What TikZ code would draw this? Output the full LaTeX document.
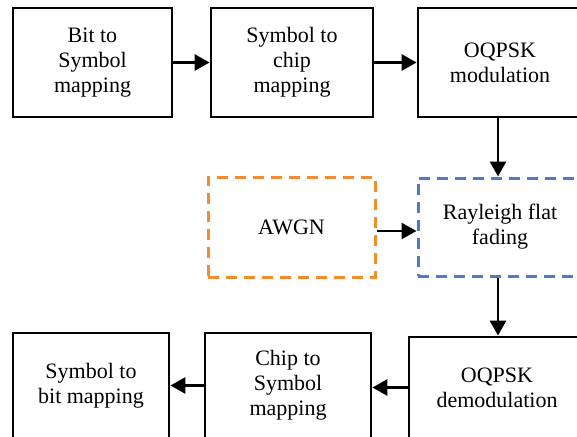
\documentclass[tikz,border=0pt]{standalone}
\usepackage{fontspec}
\setmainfont{Liberation Serif}
\usetikzlibrary{arrows.meta}
\definecolor{awgnorange}{HTML}{F28C2E}
\definecolor{rayblue}{HTML}{4A7DC6}
\tikzset{
  blockbox/.style={draw=black, line width=2.8pt, rectangle, align=center, inner sep=0pt,
    font=\fontsize{22}{25}\selectfont, text=black},
  dashbox/.style={blockbox, line width=3pt, dash pattern=on 11pt off 7pt},
  flowarrow/.style={line width=2.8pt, -{Triangle[length=15pt,width=16pt]}}
}
\begin{document}
\begin{tikzpicture}[x=1pt,y=-1pt]
\useasboundingbox (0,0) rectangle (577,436);
\node[blockbox, minimum width=159pt, minimum height=109pt] (b1) at (92.5,62.5) {Bit to\\Symbol\\mapping};
\node[blockbox, minimum width=162pt, minimum height=109pt] (b2) at (292,62.5) {Symbol to\\chip\\mapping};
\node[blockbox, minimum width=164pt, minimum height=109pt] (b3) at (500,62.5) {OQPSK\\modulation};
\node[dashbox, draw=awgnorange, minimum width=167pt, minimum height=100pt] (awgn) at (291.5,227) {AWGN};
\node[dashbox, draw=rayblue, minimum width=164pt, minimum height=98pt] (ray) at (500,227) {Rayleigh flat\\fading};
\node[blockbox, minimum width=156pt, minimum height=105pt] (sym) at (91,385.5) {Symbol to\\bit mapping};
\node[blockbox, minimum width=166pt, minimum height=105pt] (chip) at (288,385.5) {Chip to\\Symbol\\mapping};
\node[blockbox, minimum width=176pt, minimum height=101pt] (demod) at (497,387.5) {OQPSK\\demodulation};
\draw[flowarrow] (b1) -- (b2);
\draw[flowarrow] (b2) -- (b3);
\draw[flowarrow] ([xshift=-2pt]b3.south) -- ([xshift=-2pt]ray.north);
\draw[flowarrow] ([yshift=-4pt]awgn.east) -- ([yshift=-4pt]ray.west);
\draw[flowarrow] ([xshift=-2pt]ray.south) -- ([xshift=-2pt]ray.south |- demod.north);
\draw[flowarrow] (demod.west) -- (demod.west -| chip.east);
\draw[flowarrow] (chip) -- (sym);
\end{tikzpicture}
\end{document}
